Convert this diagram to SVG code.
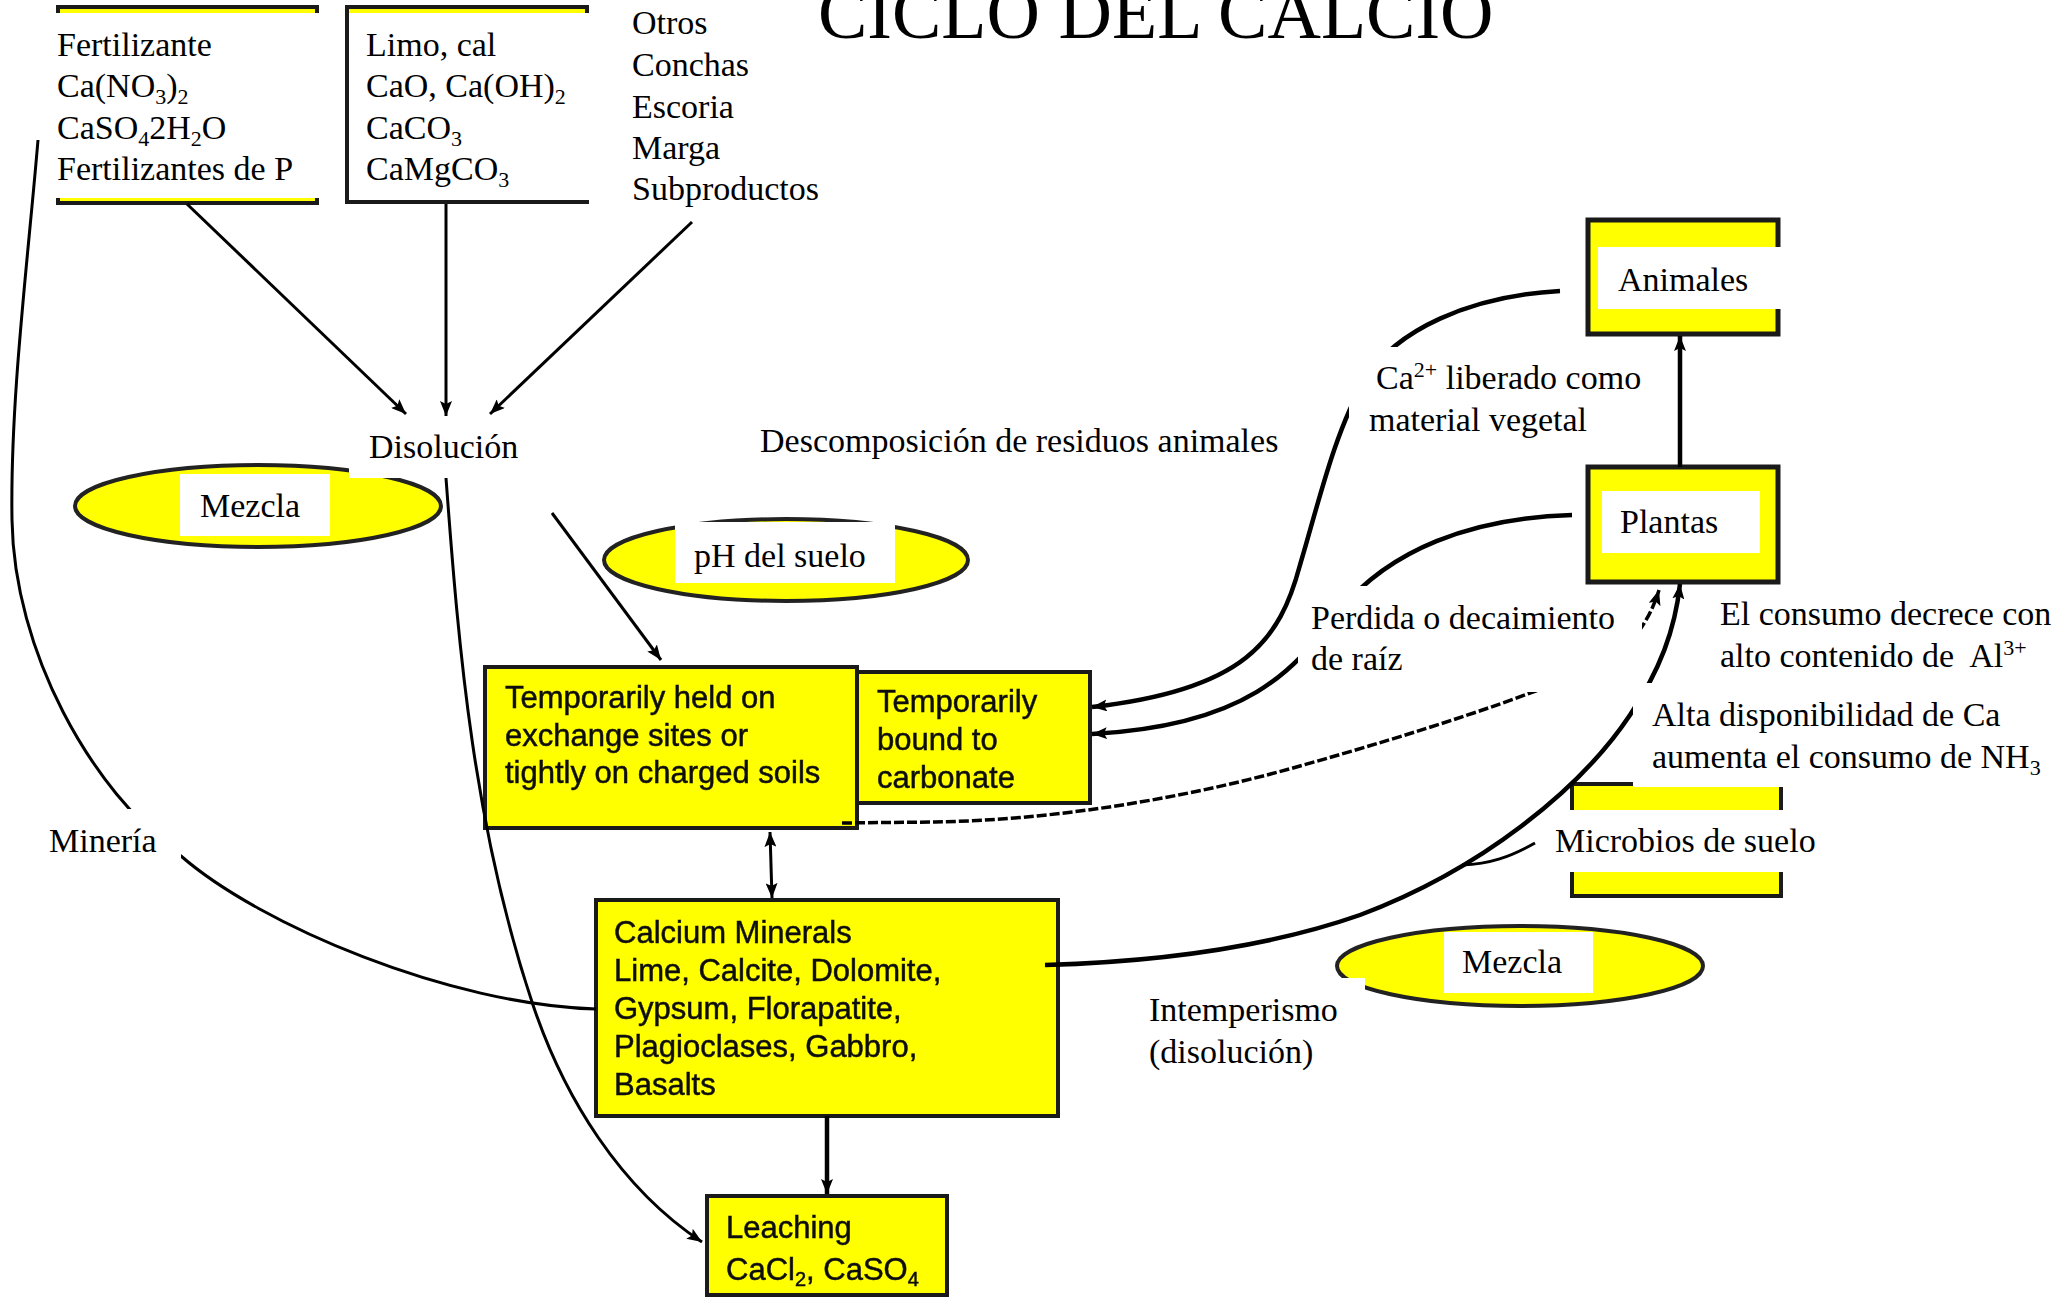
<svg xmlns="http://www.w3.org/2000/svg" width="2062" height="1298" viewBox="0 0 2062 1298">
<defs>
  <style>
    .lbl{font-family:"Liberation Serif","Times New Roman",serif;font-size:34px;fill:#000}
    .sub{font-size:22px}
    .box{fill:#FFFF00;stroke:#1a1a1a;stroke-width:4}
    .box5{fill:#FFFF00;stroke:#1a1a1a;stroke-width:5}
    .bt{font-family:"Liberation Sans",Arial,sans-serif;font-size:31px;fill:#111;stroke:#111;stroke-width:0.5;filter:url(#soft)}
    .bsub{font-size:20px}
    .mask{fill:#fff}
    .ell{fill:#FFFF00;stroke:#222;stroke-width:4;filter:url(#soft)}
    .ln{fill:none;stroke:#000;stroke-width:3}
    .thick{fill:none;stroke:#000;stroke-width:4.5}
    .dash{fill:none;stroke:#000;stroke-width:3.5;stroke-dasharray:10 3}
  </style>
  <filter id="soft" x="-5%" y="-5%" width="110%" height="110%"><feGaussianBlur stdDeviation="0.6"/></filter>
  <marker id="ah" markerUnits="userSpaceOnUse" markerWidth="16" markerHeight="12" refX="15" refY="6" orient="auto-start-reverse" viewBox="0 0 16 12">
    <path d="M0,0 L15,6 L0,12 L3,6 z" fill="#000"/>
  </marker>
</defs>

<rect width="2062" height="1298" fill="#fff"/>

<!-- title -->
<g id="title">
  <text class="lbl" x="818" y="38" style="font-size:74px">CICLO DEL CALCIO</text>
</g>

<!-- input sources -->
<g id="fertilizante">
  <rect class="box" x="58" y="7" width="259" height="196"/>
  <rect class="mask" x="50" y="13" width="272" height="185"/>
  <text class="lbl" x="57" y="56">Fertilizante</text>
  <text class="lbl" x="57" y="97">Ca(NO<tspan class="sub" dy="7">3</tspan><tspan dy="-7">)</tspan><tspan class="sub" dy="7">2</tspan></text>
  <text class="lbl" x="57" y="139">CaSO<tspan class="sub" dy="7">4</tspan><tspan dy="-7">2H</tspan><tspan class="sub" dy="7">2</tspan><tspan dy="-7">O</tspan></text>
  <text class="lbl" x="57" y="180">Fertilizantes de P</text>
</g>

<g id="limo">
  <rect class="box" x="347" y="7" width="240" height="195"/>
  <rect class="mask" x="349" y="13" width="250" height="187"/>
  <text class="lbl" x="366" y="56">Limo, cal</text>
  <text class="lbl" x="366" y="97">CaO, Ca(OH)<tspan class="sub" dy="7">2</tspan></text>
  <text class="lbl" x="366" y="139">CaCO<tspan class="sub" dy="7">3</tspan></text>
  <text class="lbl" x="366" y="180">CaMgCO<tspan class="sub" dy="7">3</tspan></text>
</g>

<g id="otros">
  <text class="lbl" x="632" y="34">Otros</text>
  <text class="lbl" x="632" y="76">Conchas</text>
  <text class="lbl" x="632" y="118">Escoria</text>
  <text class="lbl" x="632" y="159">Marga</text>
  <text class="lbl" x="632" y="200">Subproductos</text>
</g>

<!-- mixing / dissolution -->
<g id="mezcla1">
  <ellipse class="ell" cx="258" cy="506" rx="183" ry="41"/>
  <rect class="mask" x="180" y="474" width="150" height="62"/>
  <text class="lbl" x="200" y="517">Mezcla</text>
</g>

<g id="disolucion">
  <rect class="mask" x="349" y="416" width="190" height="62"/>
  <text class="lbl" x="369" y="458">Disolución</text>
</g>

<g id="ph">
  <ellipse class="ell" cx="786" cy="560" rx="182" ry="41"/>
  <rect class="mask" x="675" y="522" width="220" height="61"/>
  <text class="lbl" x="694" y="567">pH del suelo</text>
</g>

<g id="descomposicion">
  <text class="lbl" x="760" y="452">Descomposición de residuos animales</text>
</g>

<!-- soil pools -->
<g id="exchange">
  <rect class="box" x="485" y="667" width="372" height="161"/>
  <text class="bt" x="505" y="708">Temporarily held on</text>
  <text class="bt" x="505" y="746">exchange sites or</text>
  <text class="bt" x="505" y="783">tightly on charged soils</text>
</g>

<g id="carbonate">
  <rect class="box" x="857" y="672" width="233" height="131"/>
  <text class="bt" x="877" y="712">Temporarily</text>
  <text class="bt" x="877" y="750">bound to</text>
  <text class="bt" x="877" y="788">carbonate</text>
</g>

<g id="minerals">
  <rect class="box" x="596" y="900" width="462" height="216"/>
  <text class="bt" x="614" y="943">Calcium Minerals</text>
  <text class="bt" x="614" y="981">Lime, Calcite, Dolomite,</text>
  <text class="bt" x="614" y="1019">Gypsum, Florapatite,</text>
  <text class="bt" x="614" y="1057">Plagioclases, Gabbro,</text>
  <text class="bt" x="614" y="1095">Basalts</text>
</g>

<g id="leaching">
  <rect class="box" x="707" y="1196" width="240" height="99"/>
  <text class="bt" x="726" y="1238">Leaching</text>
  <text class="bt" x="726" y="1280">CaCl<tspan class="bsub" dy="6">2</tspan><tspan dy="-6">, CaSO</tspan><tspan class="bsub" dy="6">4</tspan></text>
</g>

<!-- biota -->
<g id="animales">
  <rect class="box5" x="1588" y="220" width="190" height="114"/>
  <rect class="mask" x="1598" y="247" width="183" height="62"/>
  <text class="lbl" x="1618" y="291">Animales</text>
</g>

<g id="plantas">
  <rect class="box5" x="1588" y="467" width="190" height="115"/>
  <rect class="mask" x="1602" y="491" width="158" height="62"/>
  <text class="lbl" x="1620" y="533">Plantas</text>
</g>

<g id="microbios">
  <rect class="box" x="1572" y="784" width="209" height="112"/>
  <rect class="mask" x="1536" y="810" width="300" height="62"/>
  <text class="lbl" x="1555" y="852">Microbios de suelo</text>
</g>

<g id="mezcla2">
  <ellipse class="ell" cx="1520" cy="966" rx="183" ry="40"/>
  <rect class="mask" x="1444" y="932" width="149" height="61"/>
  <text class="lbl" x="1462" y="973">Mezcla</text>
</g>

<!-- connectors (drawn over the boxes, under the flow labels) -->
<g id="connectors">
  <path class="ln" d="M187,204 L406,414" marker-end="url(#ah)"/>
  <path class="ln" d="M446,204 L446,416" marker-end="url(#ah)"/>
  <path class="ln" d="M692,222 L490,414" marker-end="url(#ah)"/>
  <path class="ln" d="M446,478 C459,654 474,829 533,1005 C564,1097 620,1188 702,1242" marker-end="url(#ah)"/>
  <path class="ln" d="M38,140 C28,260 10,400 12,520 C14,650 90,790 181,856 C260,925 450,1005 596,1009"/>
  <path class="ln" d="M552,513 L661,660" marker-end="url(#ah)"/>
  <path class="ln" d="M770,832 L772,898" marker-start="url(#ah)" marker-end="url(#ah)"/>
  <path class="thick" d="M827,1116 L827,1194" marker-end="url(#ah)"/>
  <path class="thick" d="M1680,467 L1680,336" marker-end="url(#ah)"/>
  <path class="thick" d="M1560,291 C1470,296 1395,330 1365,380 C1335,430 1318,505 1300,565 C1280,640 1245,690 1092,707" marker-end="url(#ah)"/>
  <path class="thick" d="M1572,515 C1470,518 1390,550 1340,610 C1300,660 1260,725 1092,734" marker-end="url(#ah)"/>
  <path class="dash" d="M842,823 L935,822 C1050,820 1180,800 1300,766 C1420,732 1520,700 1600,665 C1630,650 1650,620 1659,590" marker-end="url(#ah)"/>
  <path class="thick" d="M1045,965 C1150,962 1260,950 1360,915 C1480,870 1580,790 1630,715 C1660,670 1675,630 1680,584" marker-end="url(#ah)"/>
  <path class="ln" d="M1462,865 C1490,864 1510,857 1535,843"/>
</g>

<!-- flow labels -->
<g id="lbl-liberado">
  <rect class="mask" x="1349" y="347" width="310" height="100"/>
  <text class="lbl" x="1376" y="389">Ca<tspan class="sub" dy="-12">2+</tspan><tspan dy="12"> liberado como</tspan></text>
  <text class="lbl" x="1369" y="431">material vegetal</text>
</g>

<g id="lbl-perdida">
  <rect class="mask" x="1298" y="586" width="344" height="106"/>
  <text class="lbl" x="1311" y="629">Perdida o decaimiento</text>
  <text class="lbl" x="1311" y="670">de raíz</text>
</g>

<g id="lbl-consumo">
  <text class="lbl" x="1720" y="625">El consumo decrece con</text>
  <text class="lbl" x="1720" y="667">alto contenido de&#160; Al<tspan class="sub" dy="-12">3+</tspan></text>
</g>

<g id="lbl-alta">
  <rect class="mask" x="1633" y="683" width="429" height="104"/>
  <text class="lbl" x="1652" y="726">Alta disponibilidad de Ca</text>
  <text class="lbl" x="1652" y="768">aumenta el consumo de NH<tspan class="sub" dy="7">3</tspan></text>
</g>

<g id="lbl-mineria">
  <rect class="mask" x="40" y="809" width="141" height="62"/>
  <text class="lbl" x="49" y="852">Minería</text>
</g>

<g id="lbl-intemperismo">
  <rect class="mask" x="1140" y="978" width="225" height="100"/>
  <text class="lbl" x="1149" y="1021">Intemperismo</text>
  <text class="lbl" x="1149" y="1063">(disolución)</text>
</g>
</svg>
